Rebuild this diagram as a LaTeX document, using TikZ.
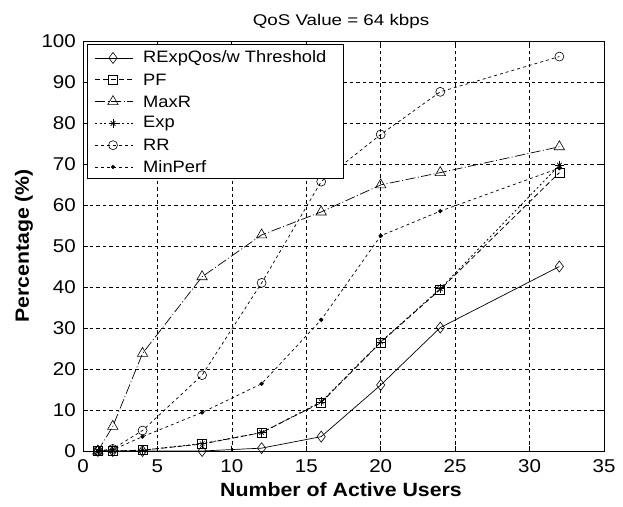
\documentclass[tikz,border=0pt]{standalone}
\usepackage{fontspec}
\usepackage{graphicx}
\setmainfont{Liberation Sans}[FakeStretch=1.11]
\usetikzlibrary{plotmarks}
\begin{document}
\begin{tikzpicture}[x=14.886pt,y=4.1pt,
  ticklabel/.style={font=\fontsize{18.5}{18.5}\selectfont,inner sep=0pt},
  axislabel/.style={font=\bfseries\fontsize{19.2}{19.2}\selectfont,inner sep=0pt},
  gridline/.style={line width=0.7pt,dash pattern=on 3.5pt off 3pt},
  frame/.style={line width=0.8pt},
  sRExp/.style={line width=0.7pt,solid},
  sPF/.style={line width=0.8pt,dash pattern=on 5pt off 3pt},
  sMaxR/.style={line width=0.7pt,dash pattern=on 10pt off 2.5pt on 1pt off 2.5pt},
  sExp/.style={line width=0.8pt,dash pattern=on 2pt off 2.5pt},
  sRR/.style={line width=0.7pt,dash pattern=on 3pt off 3pt},
  sMin/.style={line width=0.7pt,dash pattern=on 3pt off 3pt},
  mRExp/.style={mark=diamond,mark size=5.5pt,mark options={solid,line width=0.6pt}},
  mPF/.style={mark=square,mark size=4.5pt,mark options={solid,line width=0.6pt}},
  mMaxR/.style={mark=triangle,mark size=6pt,mark options={solid,line width=0.6pt}},
  mExpA/.style={mark=+,mark size=4.5pt,mark options={solid,line width=0.6pt}},
  mExpB/.style={mark=x,mark size=3.3pt,mark options={solid,line width=0.6pt}},
  mRR/.style={mark=o,mark size=4.5pt,mark options={solid,line width=0.6pt}},
  mMin/.style={mark=*,mark size=1.8pt,mark options={solid}},
  legtext/.style={font=\fontsize{16.5}{16.5}\selectfont,anchor=west,inner sep=0pt}
]
\useasboundingbox (-83pt,-55pt) rectangle (540pt,451pt);
% grid
\foreach \x in {5,10,...,30} \draw[gridline] (\x,0) -- (\x,100);
\foreach \y in {10,20,...,90} \draw[gridline] (0,\y) -- (35,\y);
% ticks and labels
\foreach \x in {0,5,...,35} {
  \draw[frame] (\x,0) -- ++(0,5pt);
  \draw[frame] (\x,100) -- ++(0,-5pt);
  \node[ticklabel] (xl\x) at (\x,0) [yshift=-15.5pt] {\x};
}
\foreach \y in {0,10,...,100} {
  \draw[frame] (0,\y) -- ++(5pt,0);
  \draw[frame] (35,\y) -- ++(-5pt,0);
  \node[ticklabel,anchor=east] (yl\y) at (0,\y) [xshift=-7pt] {\y};
}
% data
\draw[sRExp] plot[mRExp] coordinates {(1,0)(2,0)(4,0)(8,0)(12,0.7)(16,3.5)(20,16.1)(24,30.1)(32,45)};
\draw[sPF] plot[mPF] coordinates {(1,0)(2,0)(4,0.2)(8,1.7)(12,4.5)(16,11.8)(20,26.5)(24,39.4)(32,67.9)};
\draw[sMaxR] plot[mMaxR] coordinates {(1,0)(2,6)(4,23.8)(8,42.5)(12,52.7)(16,58.3)(20,64.9)(24,67.9)(32,74.2)};
\draw[sExp] plot[mExpA] coordinates {(1,0)(2,0)(4,0.2)(8,1.8)(12,4.5)(16,12)(20,26.6)(24,39.6)(32,69.7)};
\path plot[only marks,mExpB] coordinates {(1,0)(2,0)(4,0.2)(8,1.8)(12,4.5)(16,12)(20,26.6)(24,39.6)(32,69.7)};
\draw[sRR] plot[mRR] coordinates {(1,0)(2,0.5)(4,5)(8,18.5)(12,41)(16,65.7)(20,77.2)(24,87.6)(32,96.2)};
\draw[sMin] plot[mMin] coordinates {(1,0)(2,0.3)(4,3.5)(8,9.4)(12,16.4)(16,32)(20,52.5)(24,58.5)(32,69)};
% frame
\draw[frame] (0,0) rectangle (35,100);
% legend
\draw[frame,fill=white] (4pt,273pt) rectangle (260pt,407pt);
\draw[sRExp] (12pt,393pt) -- (50pt,393pt);
\path plot[only marks,mRExp] coordinates {(30pt,393pt)};
\node[legtext] (l1) at (60pt,393pt) {RExpQos/w Threshold};
\draw[sPF] (12pt,371.2pt) -- (50pt,371.2pt);
\path plot[only marks,mPF] coordinates {(30pt,371.2pt)};
\node[legtext] (l2) at (60pt,371.2pt) {PF};
\draw[sMaxR] (12pt,349.4pt) -- (50pt,349.4pt);
\path plot[only marks,mMaxR] coordinates {(30pt,349.4pt)};
\node[legtext] (l3) at (60pt,349.4pt) {MaxR};
\draw[sExp] (12pt,327.6pt) -- (50pt,327.6pt);
\path plot[only marks,mExpA] coordinates {(30pt,327.6pt)};
\path plot[only marks,mExpB] coordinates {(30pt,327.6pt)};
\node[legtext] (l4) at (60pt,327.6pt) {Exp};
\draw[sRR] (12pt,305.8pt) -- (50pt,305.8pt);
\path plot[only marks,mRR] coordinates {(30pt,305.8pt)};
\node[legtext] (l5) at (60pt,305.8pt) {RR};
\draw[sMin] (12pt,284pt) -- (50pt,284pt);
\path plot[only marks,mMin] coordinates {(30pt,284pt)};
\node[legtext] (l6) at (60pt,284pt) {MinPerf};
% labels
\node[font=\fontsize{15.5}{15.5}\selectfont,anchor=base,inner sep=0pt] (title) at (258pt,425pt) {\scalebox{1.09}[1]{QoS Value = 64 kbps}};
\node[axislabel] (xlab) at (258pt,-39pt) {Number of Active Users};
\node[axislabel,rotate=90] (ylab) at (-59pt,205pt) {Percentage (\%)};
\end{tikzpicture}
\end{document}
